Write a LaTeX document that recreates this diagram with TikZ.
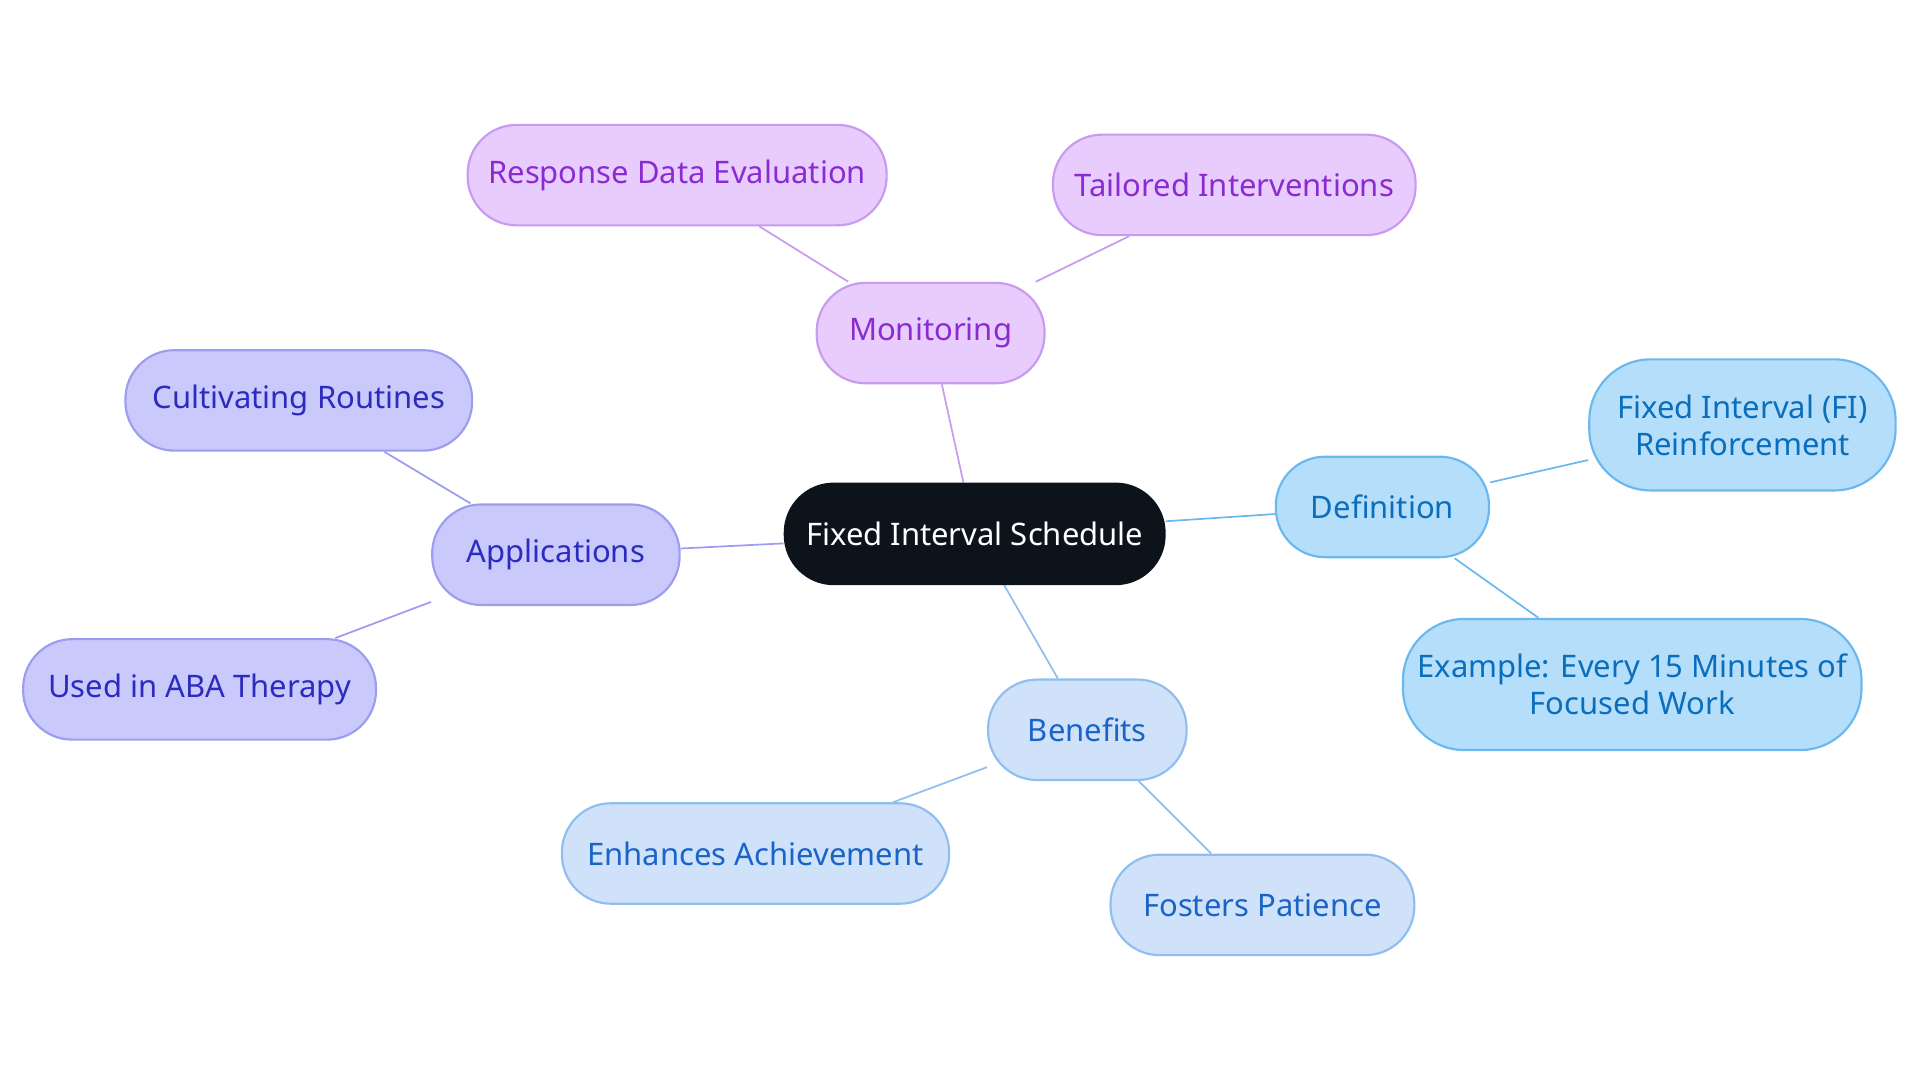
\documentclass[tikz,border=0pt]{standalone}
\usepackage{fontspec}
\setmainfont{Noto Sans}
\usetikzlibrary{backgrounds}
\definecolor{pfill}{HTML}{E8CCFD}\definecolor{pdraw}{HTML}{C89AF0}\definecolor{ptext}{HTML}{8A2BD2}
\definecolor{afill}{HTML}{C9CAFB}\definecolor{adraw}{HTML}{9C9CF0}\definecolor{atext}{HTML}{2B2BC0}
\definecolor{dfill}{HTML}{B5DEFB}\definecolor{ddraw}{HTML}{6BB8EE}\definecolor{dtext}{HTML}{0A6EBD}
\definecolor{bfill}{HTML}{CFE2FA}\definecolor{bdraw}{HTML}{90BEEE}\definecolor{btext}{HTML}{1A64C8}
\definecolor{root}{HTML}{0D131B}
\begin{document}
\begin{tikzpicture}[x=0.01cm,y=-0.01cm]
        \tikzset{
        box/.style={rounded corners=0.4cm, minimum height=0.82cm, align=center,
          font=\fontsize{7.2}{8.6}\selectfont, line width=0.5pt},
        tall/.style={box, rounded corners=0.5cm, minimum height=1.07cm},
        mon/.style={box, fill=pfill, draw=pdraw, text=ptext},
        app/.style={box, fill=afill, draw=adraw, text=atext},
        def/.style={box, fill=dfill, draw=ddraw, text=dtext},
        ben/.style={box, fill=bfill, draw=bdraw, text=btext},
        }
        \useasboundingbox (0,0) rectangle (1568,884);
        \node[box, fill=root, draw=root, text=white, minimum width=3.1cm] (fis) at (796,436) {Fixed Interval Schedule};

        \node[mon, minimum width=1.86cm] (mo) at (760,272) {Monitoring};
        \node[mon, minimum width=3.42cm] (mo1) at (553,143) {Response Data Evaluation};
        \node[mon, minimum width=2.96cm] (mo2) at (1008,151) {Tailored Interventions};

        \node[app, minimum width=2.02cm] (ap) at (454,453) {Applications};
        \node[app, minimum width=2.83cm] (ap1) at (244,327) {Cultivating Routines};
        \node[app, minimum width=2.88cm] (ap2) at (163,563) {Used in ABA Therapy};

        \node[def, minimum width=1.74cm] (de) at (1129,414) {Definition};
        \node[def, tall, minimum width=2.5cm] (de1) at (1423,347) {Fixed Interval (FI)\\Reinforcement};
        \node[def, tall, minimum width=3.67cm] (de2) at (1333,559) {Example: Every 15 Minutes of\\Focused Work};

        \node[ben, minimum width=1.62cm] (be) at (888,596) {Benefits};
        \node[ben, minimum width=3.16cm] (be1) at (617,697) {Enhances Achievement};
        \node[ben, minimum width=2.48cm] (be2) at (1031,739) {Fosters Patience};

        \begin{scope}[on background layer, line width=1.4pt]
        \draw[pdraw] (fis) -- (mo) (mo) -- (mo1) (mo) -- (mo2);
        \draw[adraw] (fis) -- (ap) (ap) -- (ap1) (ap) -- (ap2);
        \draw[ddraw] (fis) -- (de) (de) -- (de1) (de) -- (de2);
        \draw[bdraw] (fis) -- (be) (be) -- (be1) (be) -- (be2);
        \end{scope}
\end{tikzpicture}
\end{document}
